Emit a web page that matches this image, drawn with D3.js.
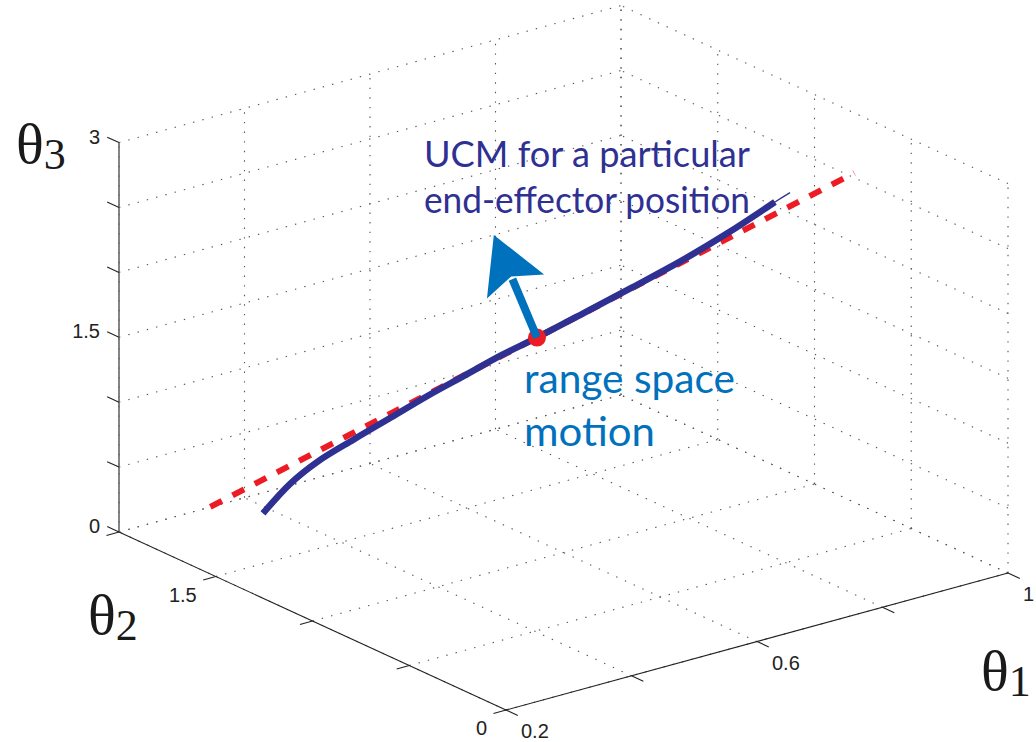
<!DOCTYPE html>
<html>
<head>
<meta charset="utf-8">
<script src="https://cdn.jsdelivr.net/npm/d3@7"></script>
<style>
  body { margin: 0; background: #fff; }
  svg { display: block; }
  .tick-label { font-family: 'Liberation Sans', Arial, sans-serif; font-size: 20px; fill: #222; }
  .axis-title { font-family: 'Liberation Serif', 'Times New Roman', serif; fill: #1a1a1a; }
  .note { font-family: Lato, 'Open Sans', sans-serif; }
</style>
</head>
<body>
<svg id="chart" width="1036" height="742"></svg>
<script>

// axis ticks and the ones that carry a label
var theta1Ticks = [0.2, 0.4, 0.6, 0.8, 1];
var theta1Labels = [0.2, 0.6, 1];
var theta2Ticks = [0, 0.5, 1, 1.5, 2];
var theta2Labels = [0, 1.5];
var theta3Ticks = [0, 0.5, 1, 1.5, 2, 2.5, 3];
var theta3Labels = [0, 1.5, 3];

// UCM for one end-effector position (joint angles)
var ucmTheta1 = [0.30, 0.33, 0.36, 0.40, 0.44, 0.48, 0.52, 0.56, 0.60, 0.65, 0.70, 0.75, 0.80, 0.85, 0.866];
var ucmTheta2 = [1.580, 1.536, 1.492, 1.433, 1.373, 1.314, 1.255, 1.196, 1.137, 1.053, 0.969, 0.885, 0.802, 0.718, 0.692];
var ucmTheta3 = [0.30, 0.52, 0.68, 0.84, 0.995, 1.149, 1.291, 1.435, 1.562, 1.746, 1.932, 2.122, 2.331, 2.564, 2.633];

// straight line through the posture (range space reference)
var lineTheta1 = [0.25, 0.94];
var lineTheta2 = [1.69, 0.60];
var lineTheta3 = [0.34, 2.75];

// current posture and where the range space arrow points
var posture = [0.60, 1.137, 1.562];
var arrowTip = [0.60, 1.36, 2.20];

var svg = d3.select('#chart');

// data scales, each one maps to a fraction of the box edge
var s1 = d3.scaleLinear().domain([0.2, 1]).range([0, 1]);
var s2 = d3.scaleLinear().domain([0, 2]).range([0, 1]);
var s3 = d3.scaleLinear().domain([0, 3]).range([0, 1]);

// screen layout of the box (orthographic view)
var origin = [506, 710];   // theta1 = 0.2, theta2 = 0, theta3 = 0
var edge1 = [502, -137];
var edge2 = [-387, -178];
var edge3 = [0, -389.4];

function project(p) {
  var u = s1(p[0]), v = s2(p[1]), w = s3(p[2]);
  return [
    origin[0] + u * edge1[0] + v * edge2[0] + w * edge3[0],
    origin[1] + u * edge1[1] + v * edge2[1] + w * edge3[1]
  ];
}

function unit(v) {
  var l = Math.sqrt(v[0] * v[0] + v[1] * v[1]);
  return [v[0] / l, v[1] / l];
}

var line = d3.line();
var smooth = d3.line().curve(d3.curveCatmullRom.alpha(0.5));
var d1 = s1.domain(), d2 = s2.domain(), d3d = s3.domain();

// grid lines on floor and the two back walls
var grid = [];
theta1Ticks.forEach(function(t){ grid.push([[t, d2[0], 0], [t, d2[1], 0]]); });
theta2Ticks.forEach(function(t){ grid.push([[d1[0], t, 0], [d1[1], t, 0]]); });
theta1Ticks.forEach(function(t){ grid.push([[t, d2[1], d3d[0]], [t, d2[1], d3d[1]]]); });
theta3Ticks.forEach(function(t){ grid.push([[d1[0], d2[1], t], [d1[1], d2[1], t]]); });
theta2Ticks.forEach(function(t){ grid.push([[d1[1], t, d3d[0]], [d1[1], t, d3d[1]]]); });
theta3Ticks.forEach(function(t){ grid.push([[d1[1], d2[0], t], [d1[1], d2[1], t]]); });

svg.append('g')
  .selectAll('path')
  .data(grid)
  .enter().append('path')
    .attr('d', function(seg){ return line(seg.map(project)); })
    .attr('fill', 'none')
    .attr('stroke', '#555')
    .attr('stroke-width', 1.1)
    .attr('stroke-dasharray', '1.4,8.2');

// axis lines
var axes = svg.append('g');
axes.append('path')
  .attr('d', line([[d1[0], d2[0], 0], [d1[1], d2[0], 0]].map(project)))
  .attr('stroke', '#222').attr('stroke-width', 1.1);
axes.append('path')
  .attr('d', line([[d1[0], d2[0], 0], [d1[0], d2[1], 0]].map(project)))
  .attr('stroke', '#222').attr('stroke-width', 1.1);
axes.append('path')
  .attr('d', line([[d1[0], d2[1], d3d[0]], [d1[0], d2[1], d3d[1]]].map(project)))
  .attr('stroke', '#666').attr('stroke-width', 1.6);

// tick directions: theta1 ticks go along -theta2, theta2 along -theta1, theta3 along +theta2
var tickLen = 13;
var dir1 = unit([-edge2[0], -edge2[1]]);
var dir2 = unit([-edge1[0], -edge1[1]]);
var dir3 = unit(edge2);

function drawTicks(values, toPoint, dir) {
  axes.selectAll(null)
    .data(values)
    .enter().append('path')
      .attr('d', function(t){
        var p = project(toPoint(t));
        return line([p, [p[0] + dir[0] * tickLen, p[1] + dir[1] * tickLen]]);
      })
      .attr('stroke', '#222')
      .attr('stroke-width', 1.1);
}
drawTicks(theta1Ticks, function(t){ return [t, d2[0], 0]; }, dir1);
drawTicks(theta2Ticks, function(t){ return [d1[0], t, 0]; }, dir2);
drawTicks(theta3Ticks, function(t){ return [d1[0], d2[1], t]; }, dir3);

// tick labels
axes.selectAll(null)
  .data(theta1Labels)
  .enter().append('text')
    .attr('class', 'tick-label')
    .attr('x', function(t){ return project([t, d2[0], 0])[0] + 15; })
    .attr('y', function(t){ return project([t, d2[0], 0])[1] + 28; })
    .text(function(t){ return t; });

axes.selectAll(null)
  .data(theta2Labels)
  .enter().append('text')
    .attr('class', 'tick-label')
    .attr('text-anchor', 'end')
    .attr('x', function(t){ return project([d1[0], t, 0])[0] - 19; })
    .attr('y', function(t){ return project([d1[0], t, 0])[1] + 25; })
    .text(function(t){ return t; });

axes.selectAll(null)
  .data(theta3Labels)
  .enter().append('text')
    .attr('class', 'tick-label')
    .attr('text-anchor', 'end')
    .attr('x', function(t){ return project([d1[0], d2[1], t])[0] - 19; })
    .attr('y', function(t){ return project([d1[0], d2[1], t])[1] + 1; })
    .text(function(t){ return t; });

// axis titles
function axisTitle(x, y, sub) {
  var t = svg.append('text')
    .attr('class', 'axis-title')
    .attr('x', x)
    .attr('y', y);
  t.append('tspan').attr('font-size', 58).text('\u03b8');
  t.append('tspan').attr('font-size', 44).attr('dy', 6).text(sub);
}
axisTitle(16, 163, '3');
axisTitle(88, 634, '2');
axisTitle(981, 690, '1');

// range space reference line
svg.append('path')
  .datum(d3.range(lineTheta1.length).map(function(i){ return [lineTheta1[i], lineTheta2[i], lineTheta3[i]]; }))
  .attr('d', function(pts){ return line(pts.map(project)); })
  .attr('fill', 'none')
  .attr('stroke', '#ed1c24')
  .attr('stroke-width', 6)
  .attr('stroke-dasharray', '13,12');

// UCM curve, thin line runs a little further than the thick one
var ucm = d3.range(ucmTheta1.length).map(function(i){ return [ucmTheta1[i], ucmTheta2[i], ucmTheta3[i]]; });

svg.append('path')
  .attr('d', smooth(ucm.map(project)))
  .attr('fill', 'none')
  .attr('stroke', '#2e3192')
  .attr('stroke-width', 1.3);

svg.append('path')
  .attr('d', smooth(ucm.slice(0, -1).map(project)))
  .attr('fill', 'none')
  .attr('stroke', '#2e3192')
  .attr('stroke-width', 6.5);

// posture marker
var pp = project(posture);
svg.append('circle')
  .attr('cx', pp[0])
  .attr('cy', pp[1])
  .attr('r', 9)
  .attr('fill', '#ed1c24');

// range space arrow
var tip = project(arrowTip);
var dir = unit([tip[0] - pp[0], tip[1] - pp[1]]);
var perp = [-dir[1], dir[0]];
var headLen = 56, headHalf = 31, notch = 45;
var base = [tip[0] - dir[0] * headLen, tip[1] - dir[1] * headLen];
var neck = [tip[0] - dir[0] * notch, tip[1] - dir[1] * notch];

svg.append('path')
  .attr('d', line([pp, [neck[0] - dir[0] * 3, neck[1] - dir[1] * 3]]))
  .attr('stroke', '#0071bc')
  .attr('stroke-width', 8);

svg.append('path')
  .attr('d', line([
    tip,
    [base[0] + perp[0] * headHalf, base[1] + perp[1] * headHalf],
    neck,
    [base[0] - perp[0] * headHalf, base[1] - perp[1] * headHalf]
  ]) + 'Z')
  .attr('fill', '#0071bc');

// annotations
function note(txt, x, y, size, width, colour) {
  svg.append('text')
    .attr('class', 'note')
    .attr('x', x)
    .attr('y', y)
    .attr('font-size', size)
    .attr('fill', colour)
    .attr('textLength', width)
    .attr('lengthAdjust', 'spacingAndGlyphs')
    .text(txt);
}
note('UCM for a particular', 424, 167, 36, 326, '#2e3192');
note('end-effector position', 424, 213, 36, 326, '#2e3192');
note('range space', 524, 393, 41, 211, '#0071bc');
note('motion', 524, 446, 41, 131, '#0071bc');

</script>
</body>
</html>
